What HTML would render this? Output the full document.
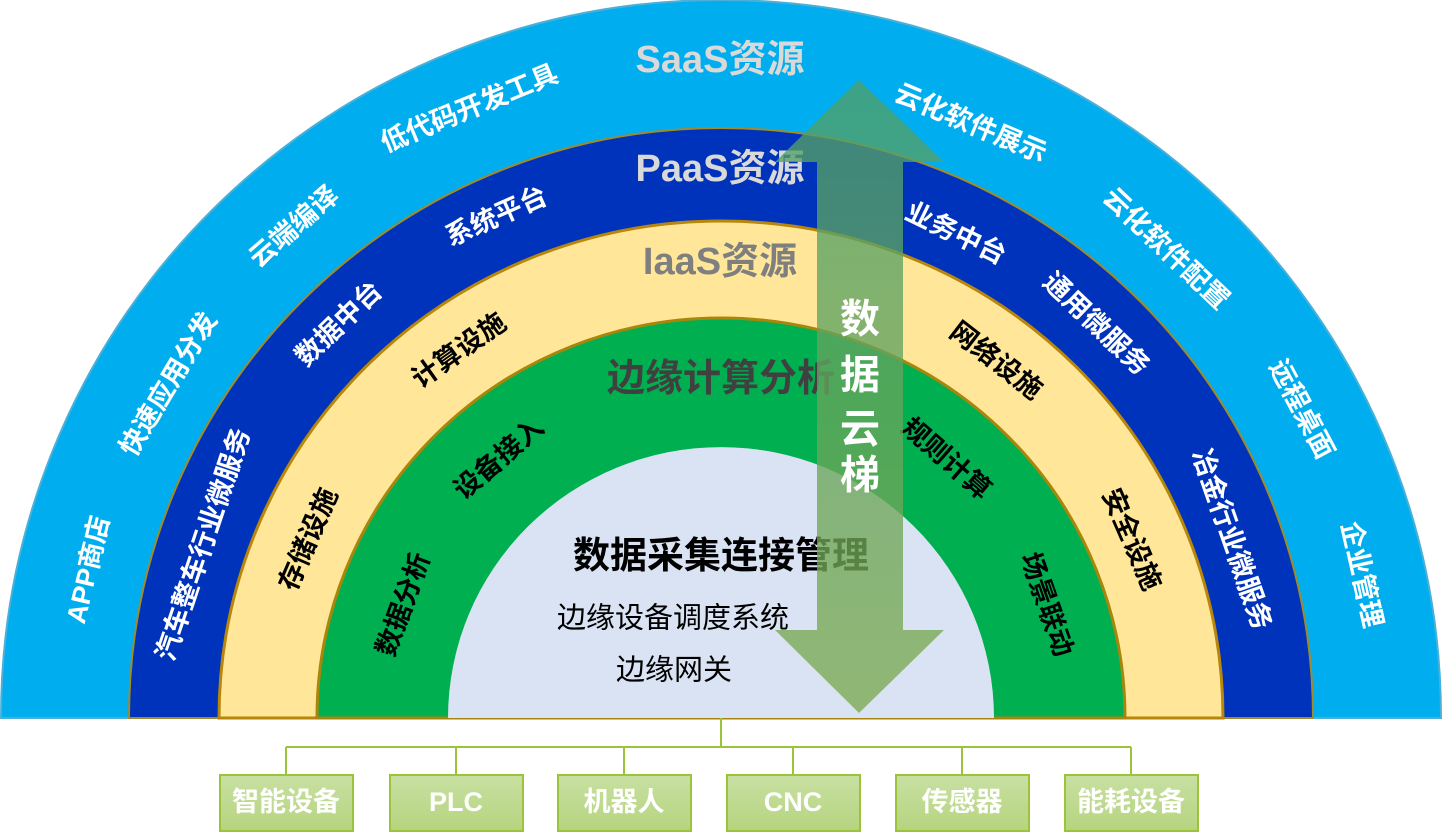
<!DOCTYPE html>
<html><head><meta charset="utf-8"><style>
html,body{margin:0;padding:0;background:#fff;}
svg{display:block;}
text{font-family:"Liberation Sans","Noto Sans CJK SC",sans-serif;font-weight:bold;}
</style></head><body>
<svg width="1442" height="839" viewBox="0 0 1442 839" xmlns="http://www.w3.org/2000/svg">
<defs>
<linearGradient id="ar" x1="0" y1="0" x2="0" y2="1">
<stop offset="0" stop-color="#4E9F6A"/><stop offset="1" stop-color="#7DAA50"/>
</linearGradient>
<linearGradient id="bx" x1="0" y1="0" x2="0" y2="1">
<stop offset="0" stop-color="#C8E0A2"/><stop offset="1" stop-color="#B6D47F"/>
</linearGradient>
</defs>
<path d="M1,718 A720,718 0 0 1 1441,718 Z" fill="#00AEEF" stroke="#4AB0D8" stroke-width="2"/>
<path d="M129,718 A592,590 0 0 1 1313,718 Z" fill="#0033BB" stroke="#A08A2A" stroke-width="2"/>
<path d="M219,718 A502,497 0 0 1 1223,718 Z" fill="#FFE699" stroke="#B8860B" stroke-width="3"/>
<path d="M317,718 A404,400 0 0 1 1125,718 Z" fill="#00B050" stroke="#A8860B" stroke-width="3"/>
<path d="M448,718 A273,271 0 0 1 994,718 Z" fill="#DAE3F3"/>

<g fill="#fff" font-size="27" text-anchor="middle" dominant-baseline="middle">
<text x="90" y="570" transform="rotate(-76.8 90 570)">APP商店</text>
<text x="170" y="385" transform="rotate(-59 170 385)">快速应用分发</text>
<text x="295" y="228" transform="rotate(-41 295 228)">云端编译</text>
<text x="470" y="110" transform="rotate(-22.4 470 110)">低代码开发工具</text>
<text x="970" y="125" transform="rotate(22.8 970 125)">云化软件展示</text>
<text x="1165" y="250" transform="rotate(43.5 1165 250)">云化软件配置</text>
<text x="1300" y="410" transform="rotate(62 1300 410)">远程桌面</text>
<text x="1360" y="575" transform="rotate(77.4 1360 575)">企业管理</text>
<text x="205" y="545" transform="rotate(-71.5 205 545)">汽车整车行业微服务</text>
<text x="340" y="325" transform="rotate(-44 340 325)">数据中台</text>
<text x="497" y="218" transform="rotate(-24 497 218)">系统平台</text>
<text x="955" y="235" transform="rotate(25.8 955 235)">业务中台</text>
<text x="1095" y="325" transform="rotate(43.6 1095 325)">通用微服务</text>
<text x="1230" y="540" transform="rotate(70.7 1230 540)">冶金行业微服务</text>
</g>
<g fill="#000" font-size="27" text-anchor="middle" dominant-baseline="middle">
<text x="310" y="540" transform="rotate(-66.6 310 540)">存储设施</text>
<text x="460" y="352" transform="rotate(-35.5 460 352)">计算设施</text>
<text x="995" y="362" transform="rotate(37.6 995 362)">网络设施</text>
<text x="1130" y="540" transform="rotate(66.5 1130 540)">安全设施</text>
<text x="405" y="605" transform="rotate(-70 405 605)">数据分析</text>
<text x="500" y="460" transform="rotate(-40.6 500 460)">设备接入</text>
<text x="945" y="460" transform="rotate(41 945 460)">规则计算</text>
<text x="1045" y="605" transform="rotate(70.8 1045 605)">场景联动</text>
</g>
<g font-size="38" text-anchor="middle" dominant-baseline="middle">
<text x="720" y="62" fill="#D9D9D9">SaaS资源</text>
<text x="720" y="171" fill="#D9D9D9">PaaS资源</text>
<text x="720" y="264" fill="#7F7F7F">IaaS资源</text>
<text x="721" y="381" fill="#404040">边缘计算分析</text>
</g>
<text x="721" y="558" font-size="37" fill="#000" text-anchor="middle" dominant-baseline="middle">数据采集连接管理</text>
<text x="673" y="620" font-size="29" fill="#000" style="font-weight:normal" text-anchor="middle" dominant-baseline="middle">边缘设备调度系统</text>
<text x="674" y="672" font-size="29" fill="#000" style="font-weight:normal" text-anchor="middle" dominant-baseline="middle">边缘网关</text>

<path d="M859,80 L944,162 L903,162 L903,630 L944,630 L859,713 L775,630 L817,630 L817,162 L775,162 Z" fill="url(#ar)" opacity="0.78"/>
<g fill="#fff" font-size="40" text-anchor="middle" dominant-baseline="middle">
<text x="860" y="322">数</text><text x="860" y="378">据</text><text x="860" y="432">云</text><text x="860" y="478">梯</text>
</g>

<g stroke="#9BC43A" stroke-width="2" fill="none">
<path d="M721,718 V747 M286,747 H1131 M286,747 V775 M456,747 V775 M624,747 V775 M793,747 V775 M962,747 V775 M1131,747 V775"/>
</g>
<g stroke="#9BC43A" stroke-width="2" fill="url(#bx)">
<rect x="220" y="775" width="133" height="56"/>
<rect x="390" y="775" width="133" height="56"/>
<rect x="558" y="775" width="133" height="56"/>
<rect x="727" y="775" width="133" height="56"/>
<rect x="896" y="775" width="133" height="56"/>
<rect x="1065" y="775" width="133" height="56"/>
</g>
<g fill="#fff" font-size="27" text-anchor="middle" dominant-baseline="middle">
<text x="286" y="804">智能设备</text>
<text x="456" y="804">PLC</text>
<text x="624" y="804">机器人</text>
<text x="793" y="804">CNC</text>
<text x="962" y="804">传感器</text>
<text x="1131" y="804">能耗设备</text>
</g>
</svg>
</body></html>
